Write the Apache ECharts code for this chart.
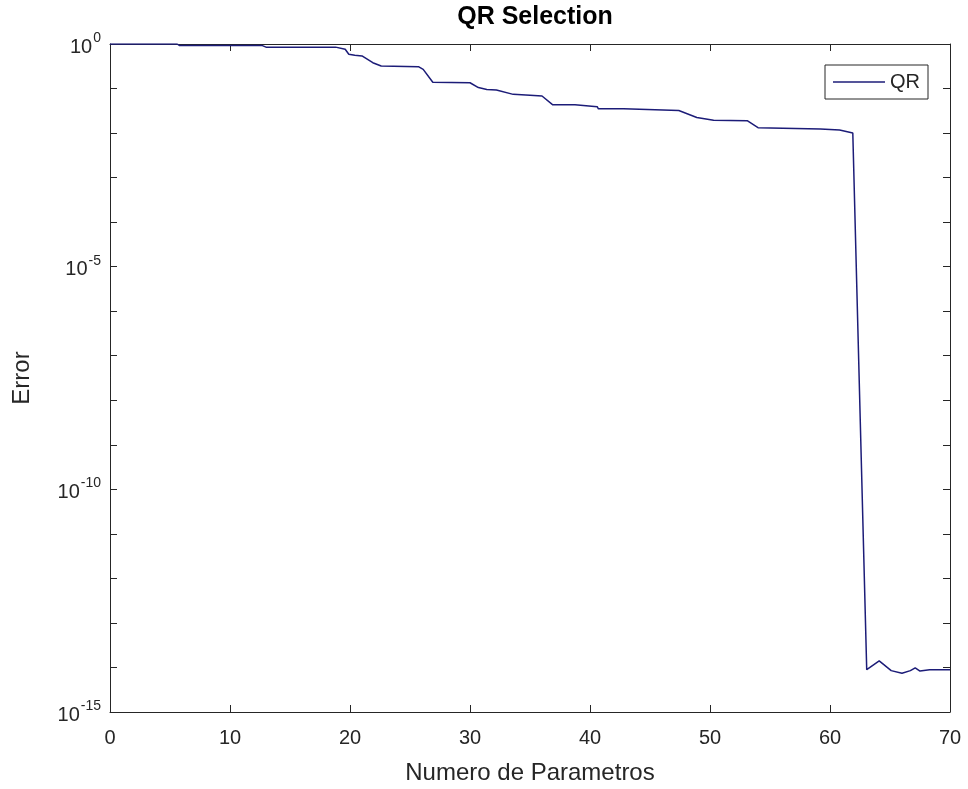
<!DOCTYPE html>
<html>
<head>
<meta charset="utf-8">
<title>QR Selection</title>
<script src="https://cdn.jsdelivr.net/npm/echarts@6/dist/echarts.min.js"></script>
<style>
  html, body { margin: 0; padding: 0; background: #ffffff; }
  #chart { width: 968px; height: 789px; }
</style>
</head>
<body>
<div id="chart"></div>
<script>
// Number of selected parameters
const numParams = [
  0, 5.6, 5.8, 12.7, 13.0, 18.8, 19.6, 19.9, 20.4, 21.0,
  21.9, 22.6, 25.7, 26.1, 26.9, 30.0, 30.7, 31.4, 32.2, 33.6,
  35.0, 36.0, 36.9, 38.75, 38.9, 40.6, 40.7, 42.8, 42.9, 47.4,
  48.9, 50.3, 53.1, 54.0, 59.2, 60.8, 61.9, 63.06, 64.1, 65.1,
  66.0, 66.7, 67.1, 67.5, 68.3, 70
];
// Approximation error of the QR-based selection
const qrError = [
  1, 1, 0.92, 0.92, 0.85, 0.85, 0.76, 0.59, 0.56, 0.54,
  0.38, 0.32, 0.31, 0.27, 0.138, 0.135, 0.105, 0.095, 0.093, 0.074,
  0.071, 0.068, 0.043, 0.043, 0.039, 0.039, 0.035, 0.035, 0.033, 0.032,
  0.0224, 0.0195, 0.019, 0.0132, 0.0123, 0.0117, 0.0100, 8.9e-15, 1.4e-14, 8.5e-15,
  7.4e-15, 8.5e-15, 9.8e-15, 8.3e-15, 8.9e-15, 8.9e-15
];
const xTicks = [0, 10, 20, 30, 40, 50, 60, 70];
const yLabelExponents = [0, -5, -10, -15];

const INK = '#262626';
const LINE = '#1c1c78';
const FONT = '"Liberation Sans", Arial, sans-serif';

const chart = echarts.init(document.getElementById('chart'), null, { renderer: 'canvas' });

const points = numParams.map((x, i) => [x, qrError[i]]);

// Decade labels shown as 10 with a raised exponent, every fifth decade only
function expLabel(v) {
  const e = Math.round(Math.log10(v));
  if (yLabelExponents.indexOf(e) < 0) return '';
  return '{b|10}{s|' + e + '}';
}

const tickStyle = { show: true, inside: true, length: 7, lineStyle: { color: INK, width: 1 } };

chart.setOption({
  backgroundColor: '#ffffff',
  animation: false,
  title: {
    text: 'QR Selection',
    left: 530,
    top: 0,
    textAlign: 'center',
    textStyle: { fontFamily: FONT, fontWeight: 'bold', fontSize: 25, color: '#000000' }
  },
  grid: { left: 110, right: 18, top: 44, bottom: 77, containLabel: false, outerBoundsMode: 'none' },
  legend: {
    right: 40,
    top: 65,
    orient: 'vertical',
    backgroundColor: '#ffffff',
    borderColor: INK,
    borderWidth: 1,
    borderRadius: 0,
    padding: [7, 8, 7, 8],
    icon: 'rect',
    itemWidth: 52,
    itemHeight: 1.5,
    itemGap: 5,
    textStyle: { fontFamily: FONT, fontSize: 20, color: INK },
    data: ['QR']
  },
  xAxis: [
    {
      type: 'value', min: 0, max: 70, interval: 10, position: 'bottom',
      data: xTicks,
      name: 'Numero de Parametros', nameLocation: 'middle', nameGap: 49,
      nameTextStyle: { fontFamily: FONT, fontSize: 24, color: INK },
      axisLine: { show: true, onZero: false, lineStyle: { color: INK, width: 1 } },
      axisTick: tickStyle,
      axisLabel: { fontFamily: FONT, fontSize: 20, color: INK, margin: 16 },
      splitLine: { show: false }
    },
    {
      type: 'value', min: 0, max: 70, interval: 10, position: 'top',
      axisLine: { show: true, onZero: false, lineStyle: { color: INK, width: 1 } },
      axisTick: tickStyle,
      axisLabel: { show: false },
      splitLine: { show: false }
    }
  ],
  yAxis: [
    {
      type: 'log', logBase: 10, min: 1e-15, max: 1, interval: 1, position: 'left',
      name: 'Error', nameLocation: 'middle', nameGap: 76,
      nameTextStyle: { fontFamily: FONT, fontSize: 24, color: INK },
      axisLine: { show: true, onZero: false, lineStyle: { color: INK, width: 1 } },
      axisTick: tickStyle,
      axisLabel: {
        fontFamily: FONT, color: INK, margin: 9,
        formatter: expLabel,
        rich: {
          b: { fontFamily: FONT, fontSize: 20, color: INK, verticalAlign: 'bottom', lineHeight: 26, padding: [8, 0, 0, 0] },
          s: { fontFamily: FONT, fontSize: 14, color: INK, verticalAlign: 'top', lineHeight: 26, padding: [0, 0, 12, 1] }
        }
      },
      splitLine: { show: false }
    },
    {
      type: 'log', logBase: 10, min: 1e-15, max: 1, interval: 1, position: 'right',
      axisLine: { show: true, onZero: false, lineStyle: { color: INK, width: 1 } },
      axisTick: tickStyle,
      axisLabel: { show: false },
      splitLine: { show: false }
    }
  ],
  series: [
    {
      name: 'QR',
      type: 'line',
      xAxisIndex: 0,
      yAxisIndex: 0,
      data: points,
      symbol: 'none',
      showSymbol: false,
      lineStyle: { color: LINE, width: 1.5 },
      itemStyle: { color: LINE },
      clip: true
    }
  ]
});
</script>
</body>
</html>
